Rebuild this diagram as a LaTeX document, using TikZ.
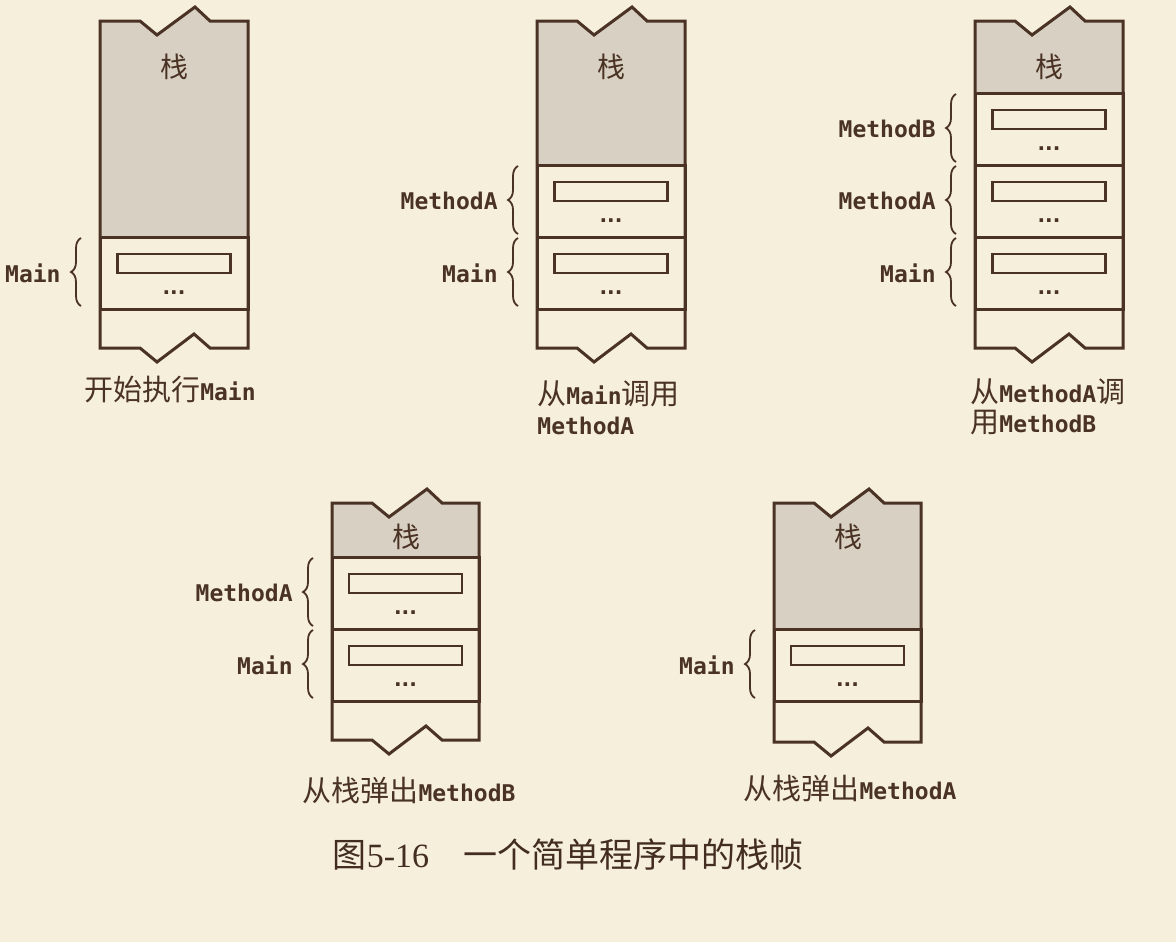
\documentclass[tikz,border=0pt]{standalone}
\usepackage{fontspec}
\usepackage{tikz}
\usetikzlibrary{positioning, decorations.pathreplacing}
\setmonofont{DejaVu Sans Mono}
\newfontfamily\cjk{Noto Sans CJK SC}
\newfontfamily\numfont{Liberation Serif}
\newfontfamily\dotfont{DejaVu Sans}
\definecolor{paper}{HTML}{F6EFDC}
\definecolor{ink}{HTML}{4A3224}
\definecolor{stackgray}{HTML}{D8D1C3}
\newcommand{\zh}[1]{{\cjk\mdseries\fontsize{14.5}{16}\selectfont #1}}

\begin{document}
\begin{tikzpicture}[x=0.5pt, y=-0.5pt,
    edge/.style={draw=ink, line width=1.5pt, line join=miter},
    frame/.style={draw=ink, line width=1.5pt, minimum width=74pt, minimum height=36pt,
                  inner sep=0pt, outer sep=0pt, anchor=north west},
    slot/.style={draw=ink, line width=1.2pt, minimum width=56.5pt, minimum height=9.5pt,
                 inner sep=0pt, outer sep=0pt},
    dots/.style={font=\dotfont\bfseries\fontsize{10}{10}\selectfont, text=ink, inner sep=0pt},
    brc/.style={draw=ink, line width=0.9pt, decorate, decoration={brace, amplitude=5pt}},
    lbl/.style={font=\ttfamily\bfseries\fontsize{11.5}{13}\selectfont, text=ink, inner sep=0pt},
    stk/.style={font=\cjk\fontsize{14}{16}\selectfont, text=ink, inner sep=0pt},
    note/.style={font=\ttfamily\bfseries\fontsize{11.5}{15}\selectfont, text=ink, inner sep=0pt, align=left}
  ]
  \fill[paper] (0,0) rectangle (1176,942);

  % start of Main
  \begin{scope}[shift={(100,21)}]
    \fill[stackgray] (0,0) -- (40,0) -- (57,14) -- (95,-14) -- (110,0) -- (148,0) -- (148,216) -- (0,216) -- cycle;
    \draw[edge] (0,0) -- (40,0) -- (57,14) -- (95,-14) -- (110,0) -- (148,0) -- (148,327)
      -- (110,327) -- (94,313) -- (57,341) -- (40,327) -- (0,327) -- cycle;
    \node[stk] (s1top) at (74,46) {栈};
    \node[frame] (s1m) at (0,216) {};
    \node[slot, below=8.5pt of s1m.north] (s1mslot) {};
    \node[dots] (s1mdots) at ([yshift=-28pt]s1m.north) {...};
    \draw[brc] ([xshift=-9.5pt,yshift=1.5pt]s1m.south west) -- ([xshift=-9.5pt,yshift=-0.5pt]s1m.north west);
    \node[lbl, left=19.5pt of s1m.west] (s1mlbl) {Main};
    \node[note] (s1cap) at (70,369) {\zh{开始执行}Main};
  \end{scope}

  % Main calls MethodA
  \begin{scope}[shift={(537,21)}]
    \fill[stackgray] (0,0) -- (40,0) -- (57,14) -- (95,-14) -- (110,0) -- (148,0) -- (148,144) -- (0,144) -- cycle;
    \draw[edge] (0,0) -- (40,0) -- (57,14) -- (95,-14) -- (110,0) -- (148,0) -- (148,327)
      -- (110,327) -- (94,313) -- (57,341) -- (40,327) -- (0,327) -- cycle;
    \node[stk] (s2top) at (74,46) {栈};
    \node[frame] (s2a) at (0,144) {};
    \node[frame] (s2m) at (0,216) {};
    \node[slot, below=8.5pt of s2a.north] (s2aslot) {};
    \node[slot, below=8.5pt of s2m.north] (s2mslot) {};
    \node[dots] (s2adots) at ([yshift=-28pt]s2a.north) {...};
    \node[dots] (s2mdots) at ([yshift=-28pt]s2m.north) {...};
    \draw[brc] ([xshift=-9.5pt,yshift=1.5pt]s2a.south west) -- ([xshift=-9.5pt,yshift=-0.5pt]s2a.north west);
    \draw[brc] ([xshift=-9.5pt,yshift=1.5pt]s2m.south west) -- ([xshift=-9.5pt,yshift=-0.5pt]s2m.north west);
    \node[lbl, left=19.5pt of s2a.west] (s2albl) {MethodA};
    \node[lbl, left=19.5pt of s2m.west] (s2mlbl) {Main};
    \node[note, anchor=north west] (s2cap) at (0,359) {\zh{从}Main\zh{调用}\\MethodA};
  \end{scope}

  % MethodA calls MethodB
  \begin{scope}[shift={(975,21)}]
    \fill[stackgray] (0,0) -- (40,0) -- (57,14) -- (95,-14) -- (110,0) -- (148,0) -- (148,72) -- (0,72) -- cycle;
    \draw[edge] (0,0) -- (40,0) -- (57,14) -- (95,-14) -- (110,0) -- (148,0) -- (148,327)
      -- (110,327) -- (94,313) -- (57,341) -- (40,327) -- (0,327) -- cycle;
    \node[stk] (s3top) at (74,46) {栈};
    \node[frame] (s3b) at (0,72) {};
    \node[frame] (s3a) at (0,144) {};
    \node[frame] (s3m) at (0,216) {};
    \node[slot, below=8.5pt of s3b.north] (s3bslot) {};
    \node[slot, below=8.5pt of s3a.north] (s3aslot) {};
    \node[slot, below=8.5pt of s3m.north] (s3mslot) {};
    \node[dots] (s3bdots) at ([yshift=-28pt]s3b.north) {...};
    \node[dots] (s3adots) at ([yshift=-28pt]s3a.north) {...};
    \node[dots] (s3mdots) at ([yshift=-28pt]s3m.north) {...};
    \draw[brc] ([xshift=-9.5pt,yshift=1.5pt]s3b.south west) -- ([xshift=-9.5pt,yshift=-0.5pt]s3b.north west);
    \draw[brc] ([xshift=-9.5pt,yshift=1.5pt]s3a.south west) -- ([xshift=-9.5pt,yshift=-0.5pt]s3a.north west);
    \draw[brc] ([xshift=-9.5pt,yshift=1.5pt]s3m.south west) -- ([xshift=-9.5pt,yshift=-0.5pt]s3m.north west);
    \node[lbl, left=19.5pt of s3b.west] (s3blbl) {MethodB};
    \node[lbl, left=19.5pt of s3a.west] (s3albl) {MethodA};
    \node[lbl, left=19.5pt of s3m.west] (s3mlbl) {Main};
    \node[note, anchor=north west] (s3cap) at (-5,357) {\zh{从}MethodA\zh{调}\\\zh{用}MethodB};
  \end{scope}

  % MethodB popped
  \begin{scope}[shift={(332,503)}]
    \fill[stackgray] (0,0) -- (40,0) -- (57,14) -- (95,-14) -- (110,0) -- (147,0) -- (147,54) -- (0,54) -- cycle;
    \draw[edge] (0,0) -- (40,0) -- (57,14) -- (95,-14) -- (110,0) -- (147,0) -- (147,237)
      -- (110,237) -- (94,223) -- (57,251) -- (40,237) -- (0,237) -- cycle;
    \node[stk] (s4top) at (74,34) {栈};
    \node[frame, minimum width=73.5pt] (s4a) at (0,54) {};
    \node[frame, minimum width=73.5pt] (s4m) at (0,126) {};
    \node[slot, below=8.5pt of s4a.north] (s4aslot) {};
    \node[slot, below=8.5pt of s4m.north] (s4mslot) {};
    \node[dots] (s4adots) at ([yshift=-28pt]s4a.north) {...};
    \node[dots] (s4mdots) at ([yshift=-28pt]s4m.north) {...};
    \draw[brc] ([xshift=-9.5pt,yshift=1.5pt]s4a.south west) -- ([xshift=-9.5pt,yshift=-0.5pt]s4a.north west);
    \draw[brc] ([xshift=-9.5pt,yshift=1.5pt]s4m.south west) -- ([xshift=-9.5pt,yshift=-0.5pt]s4m.north west);
    \node[lbl, left=19.5pt of s4a.west] (s4albl) {MethodA};
    \node[lbl, left=19.5pt of s4m.west] (s4mlbl) {Main};
    \node[note] (s4cap) at (77,287) {\zh{从栈弹出}MethodB};
  \end{scope}

  % MethodA popped
  \begin{scope}[shift={(774,503)}]
    \fill[stackgray] (0,0) -- (40,0) -- (57,14) -- (95,-14) -- (110,0) -- (147,0) -- (147,126) -- (0,126) -- cycle;
    \draw[edge] (0,0) -- (40,0) -- (57,14) -- (95,-14) -- (110,0) -- (147,0) -- (147,239)
      -- (110,239) -- (94,225) -- (57,253) -- (40,239) -- (0,239) -- cycle;
    \node[stk] (s5top) at (74,34) {栈};
    \node[frame, minimum width=73.5pt] (s5m) at (0,126) {};
    \node[slot, below=8.5pt of s5m.north] (s5mslot) {};
    \node[dots] (s5mdots) at ([yshift=-28pt]s5m.north) {...};
    \draw[brc] ([xshift=-9.5pt,yshift=1.5pt]s5m.south west) -- ([xshift=-9.5pt,yshift=-0.5pt]s5m.north west);
    \node[lbl, left=19.5pt of s5m.west] (s5mlbl) {Main};
    \node[note] (s5cap) at (76,285) {\zh{从栈弹出}MethodA};
  \end{scope}

  \node[font=\cjk\fontsize{17}{20}\selectfont, text=ink!90!black, inner sep=0pt] (figcap) at (568,855)
    {图{\numfont 5-16}\hspace{1em}一个简单程序中的栈帧};
\end{tikzpicture}
\end{document}
